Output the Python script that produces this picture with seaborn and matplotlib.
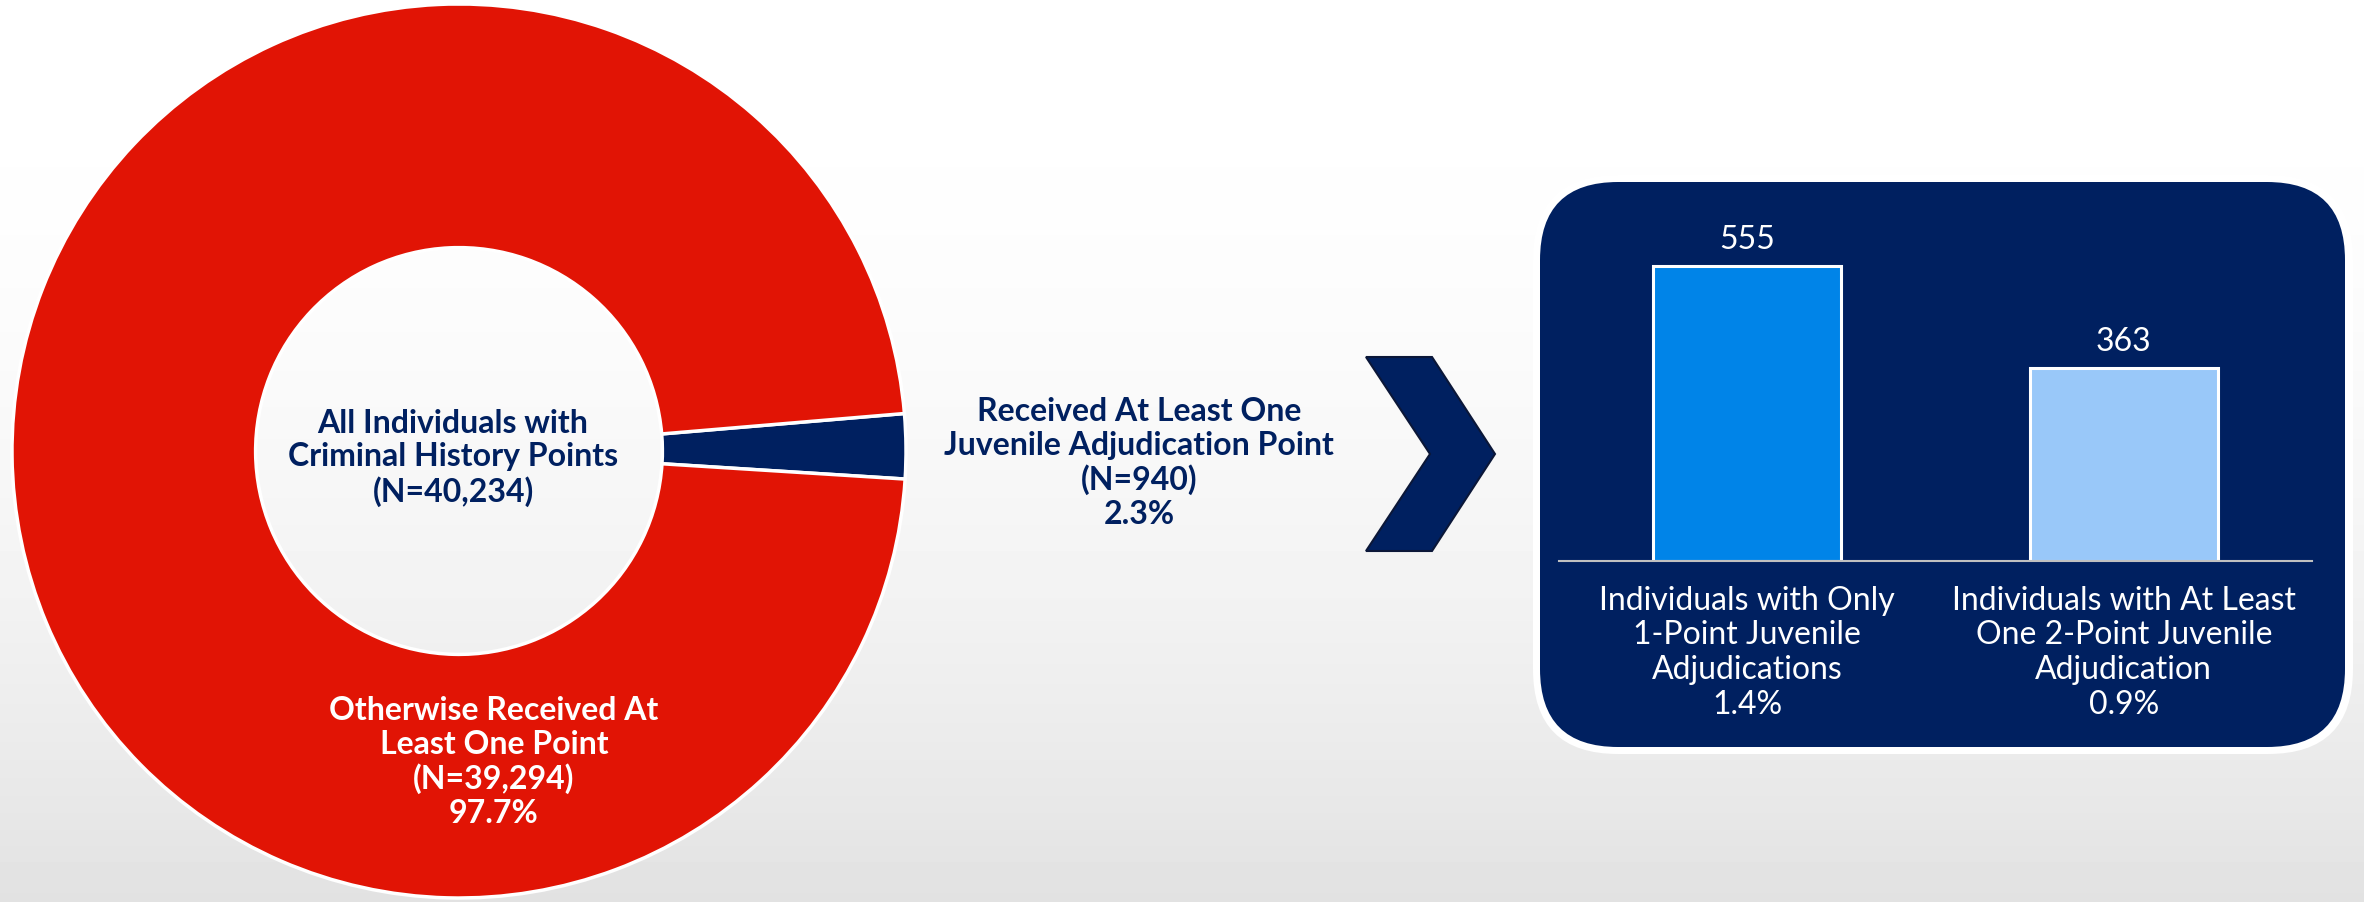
import numpy as np
import pandas as pd
import seaborn as sns
import matplotlib.pyplot as plt
from matplotlib.patches import FancyBboxPatch, Polygon

# Donut: everyone with criminal history points, split by juvenile adjudication points
donut_labels = ["Received At Least One\nJuvenile Adjudication Point",
                "Otherwise Received At\nLeast One Point"]
donut_counts = [940, 39294]
total_title = "All Individuals with\nCriminal History Points"

# Bars: breakdown of the juvenile adjudication group
bar_labels = ["Individuals with Only\n1-Point Juvenile\nAdjudications",
              "Individuals with At Least\nOne 2-Point Juvenile\nAdjudication"]
bar_counts = [555, 363]

NAVY = "#002060"
RED = "#e11405"
BAR_COLORS = ["#0084e8", "#99c8f9"]
W, H = 2364, 903

sns.set_theme(style="white")
plt.rcParams["font.family"] = ["Lato", "DejaVu Sans"]

total = sum(donut_counts)

fig = plt.figure(figsize=(W / 100, H / 100), dpi=100)


def pixel_axes(z):
    # full-figure axes where data units are pixels (y downwards)
    a = fig.add_axes([0, 0, 1, 1], zorder=z)
    a.set_xlim(0, W)
    a.set_ylim(H, 0)
    a.axis("off")
    a.patch.set_alpha(0)
    return a


# background: gradient, panel, chevron
bg = pixel_axes(0)
t = np.linspace(0, 1, 256)[:, None]
grad = 1 - 0.115 * t ** 2
bg.imshow(np.repeat(grad, 2, axis=1), cmap="gray", vmin=0, vmax=1,
          extent=(0, W, H, 0), aspect="auto", interpolation="bilinear")
bg.set_xlim(0, W)
bg.set_ylim(H, 0)

# rounded navy panel behind the bar chart
bg.add_patch(FancyBboxPatch((1533, 176), 820, 579,
                            boxstyle="round,pad=0,rounding_size=85",
                            facecolor="white", edgecolor="none"))
bg.add_patch(FancyBboxPatch((1540, 183), 805, 565,
                            boxstyle="round,pad=0,rounding_size=78",
                            facecolor=NAVY, edgecolor="none"))

# chevron arrow
chevron = [(1366, 358), (1432, 358), (1495, 455), (1432, 552), (1366, 552), (1430, 455)]
bg.add_patch(Polygon(chevron, closed=True, facecolor=NAVY, edgecolor="#0b1738", linewidth=1.5))

# donut
pax = fig.add_axes([12 / W, (H - 452 - 447) / H, 894 / W, 894 / H], zorder=1)
wedges, _ = pax.pie(donut_counts, colors=[NAVY, RED], startangle=-3.6, counterclock=True,
                    radius=1, wedgeprops=dict(width=0.545, edgecolor="white", linewidth=2.5))
for w in wedges:
    w.set_clip_on(False)
pax.set_xlim(-1, 1)
pax.set_ylim(-1, 1)
pax.set_aspect("equal")
pax.patch.set_alpha(0)

# donut labels on top of everything
ov = pixel_axes(3)
pcts = [c / total * 100 for c in donut_counts]
ov.text(453, 458, f"{total_title}\n(N={total:,})", ha="center", va="center",
        fontsize=23, fontweight="bold", color=NAVY, linespacing=1.2)
ov.text(494, 762, f"{donut_labels[1]}\n(N={donut_counts[1]:,})\n{pcts[1]:.1f}%",
        ha="center", va="center", fontsize=23, fontweight="bold", color="white", linespacing=1.2)
ov.text(1139, 463, f"{donut_labels[0]}\n(N={donut_counts[0]:,})\n{pcts[0]:.1f}%",
        ha="center", va="center", fontsize=23, fontweight="bold", color=NAVY, linespacing=1.2)

# bar chart
bax = fig.add_axes([1559 / W, (H - 562) / H, 753 / W, 329.5 / H], zorder=2)
bax.patch.set_alpha(0)
ticks = [f"{lab}\n{c / total * 100:.1f}%" for lab, c in zip(bar_labels, bar_counts)]
df = pd.DataFrame({"group": ticks, "count": bar_counts})
sns.barplot(data=df, x="group", y="count", hue="group", palette=BAR_COLORS, width=0.5,
            saturation=1, edgecolor="white", linewidth=2.2, legend=False, ax=bax)
for c in bax.containers:
    bax.bar_label(c, fmt="{:.0f}", padding=9, color="white", fontsize=23)
bax.set_xlim(-0.5, 1.5)
bax.set_ylim(0, 620)
bax.set_xlabel("")
bax.set_ylabel("")
bax.set_yticks([])
bax.tick_params(axis="x", length=0, pad=17, labelcolor="white", labelsize=23)
for lab in bax.get_xticklabels():
    lab.set_linespacing(1.2)
for side in ["top", "left", "right"]:
    bax.spines[side].set_visible(False)
bax.spines["bottom"].set_color("#c0c0c0")
bax.spines["bottom"].set_linewidth(1.5)

fig.savefig("out.png", dpi=100)
